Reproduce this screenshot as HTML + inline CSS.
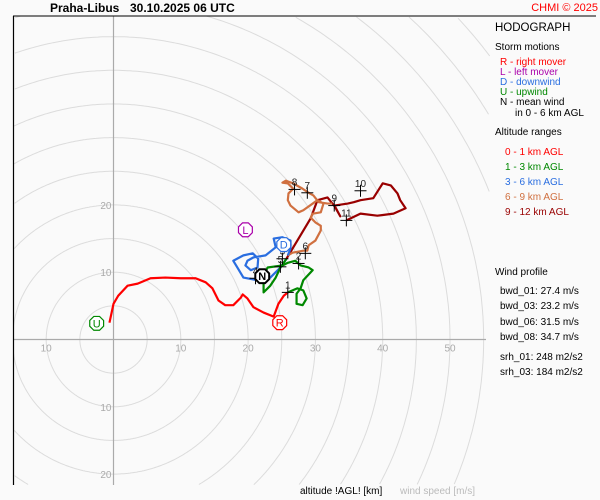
<!DOCTYPE html>
<html><head><meta charset="utf-8">
<style>
html,body{margin:0;padding:0;width:600px;height:500px;overflow:hidden;background:#fafafa;font-family:"Liberation Sans",sans-serif;}
svg{display:block}
text{font-family:"Liberation Sans",sans-serif}
</style></head>
<body>
<svg id="c" width="600" height="500" xmlns="http://www.w3.org/2000/svg">
<rect x="0" y="0" width="600" height="500" fill="#fafafa"/>
<g id="rings"></g>
<g id="axes"></g>
<g id="ticks"></g>
<g id="traces"></g>
<g id="marks"></g>
<line x1="13" y1="16" x2="596" y2="16" stroke="#000" stroke-width="1"/>
<line x1="13.5" y1="16" x2="13.5" y2="485" stroke="#000" stroke-width="1.2"/>
<text x="50" y="12" font-size="12" font-weight="bold">Praha-Libus</text>
<text x="130" y="12" font-size="12" font-weight="bold">30.10.2025 06 UTC</text>
<text x="598" y="11" font-size="11" fill="#f00" text-anchor="end">CHMI © 2025</text>
<g font-size="10">
<text x="495" y="31" font-size="11.5">HODOGRAPH</text>
<text x="495" y="50">Storm motions</text>
<text x="500" y="65" fill="#f00">R - right mover</text>
<text x="500" y="75" fill="#a0a">L - left mover</text>
<text x="500" y="85" fill="#2a6ee0">D - downwind</text>
<text x="500" y="95" fill="#080">U - upwind</text>
<text x="500" y="105">N - mean wind</text>
<text x="515" y="116">in 0 - 6 km AGL</text>
<text x="495" y="135">Altitude ranges</text>
<text x="505" y="155" fill="#f00">0 - 1 km AGL</text>
<text x="505" y="170" fill="#080">1 - 3 km AGL</text>
<text x="505" y="185" fill="#2a6ee0">3 - 6 km AGL</text>
<text x="505" y="200" fill="#d07040">6 - 9 km AGL</text>
<text x="505" y="215" fill="#900">9 - 12 km AGL</text>
<text x="495" y="275">Wind profile</text>
<text x="500" y="294">bwd_01: 27.4 m/s</text>
<text x="500" y="309">bwd_03: 23.2 m/s</text>
<text x="500" y="325">bwd_06: 31.5 m/s</text>
<text x="500" y="340">bwd_08: 34.7 m/s</text>
<text x="500" y="360">srh_01: 248 m2/s2</text>
<text x="500" y="375">srh_03: 184 m2/s2</text>
</g>
<text x="300" y="494" font-size="10">altitude !AGL! [km]</text>
<text x="400" y="494" font-size="10" fill="#bbb">wind speed [m/s]</text>
</svg>
<script>
const xTicks=[-10,10,20,30,40,50];
const yTicks=[20,10,-10,-20];
const ringSpeeds=[5,10,15,20,25,30,35,40,45,50,55,60,65,70,75];
const u01=[-0.6,0,0.7,2.1,3.6,5.5,7.7,10.0,12.2,13.7,14.7,15.6,16.6,17.8,18.9,19.2,19.9,20.8,22.3,23.8,24.5,25.3,25.9];
const v01=[2.5,5.3,6.5,8.0,8.3,9.1,9.2,9.1,9.1,8.5,7.6,5.8,5.1,5.1,6.2,6.7,6.1,4.8,4.0,3.4,5.3,6.5,7.0];
const u13=[25.9,27.3,28.2,28.7,28.1,27.2,27.2,27.8,28.2,29.6,29.0,27.8,27.0,25.9,25.1,22.9,22.3,22.3,23.3,24.1,24.8,25.7];
const v13=[7.0,7.6,7.3,6.1,5.1,5.3,6.8,7.6,8.8,10.3,10.7,11.0,11.7,11.4,11.0,10.7,9.5,7.0,8.0,9.2,10.7,12.0];
const u36=[25.7,24.8,23.3,21.4,19.3,18.4,17.8,19.3,20.7,21.5,21.4,20.4,19.6,19.9,20.8,22.6,24.1,23.8,25.1,26.3,26.3,25.9];
const v36=[12.0,10.7,9.2,8.8,9.2,10.7,11.7,12.5,12.8,12.0,10.7,10.3,11.0,11.7,12.2,12.5,13.7,15.0,15.2,14.7,13.5,12.5];
const u69=[25.9,26.6,28.2,28.8,29.0,30.0,30.8,30.8,30.0,29.3,29.6,30.8,31.2,30.3,29.6,28.2,27.5,26.3,25.9,26.0,26.7,25.9,25.1,25.6,26.7,28.1,29.0,29.7,30.5,31.8,32.5];
const v69=[12.5,12.9,13.2,13.2,14.0,14.7,16.2,16.9,17.4,18.1,18.7,18.9,20.2,20.7,20.2,19.2,18.9,19.9,20.7,21.7,22.4,23.2,23.3,23.6,23.2,22.4,21.8,21.4,20.4,20.2,20.2];
const u912=[25.7,29.3,30.3,31.8,33.0,33.7,32.8,34.8,35.7,36.7,38.6,40.0,41.2,42.2,42.6,43.4,41.6,39.2,36.7,34.6];
const v912=[12.0,18.0,20.7,21.1,19.6,18.3,19.9,20.2,20.4,20.7,21.0,23.2,22.9,21.7,20.7,19.5,18.7,18.4,18.7,17.7];
const levelLabels=["1","2","3","4","5","6","7","8","9","10","11"];
const levelU=[25.9,27.5,25.1,21.1,24.8,28.5,28.8,26.9,32.8,36.7,34.6];
const levelV=[7.0,11.3,12.0,9.1,10.8,12.8,21.8,22.3,19.9,22.1,17.7];
const motionLabels=["R","L","D","U","N"];
const motionU=[24.7,19.6,25.3,-2.5,22.1];
const motionV=[2.5,16.3,14.1,2.4,9.4];
const motionColors=["#f00","#a0a","#2a6ee0","#080","#000"];

const OX=113.5,OY=339.5,S=6.73;
const X=u=>OX+u*S, Y=v=>OY-v*S;
const L=13.5,T=16,R=490,B=485;
const NS="http://www.w3.org/2000/svg";
function mk(tag,parent,attrs){const e=document.createElementNS(NS,tag);for(const k in attrs)e.setAttribute(k,attrs[k]);parent.appendChild(e);return e;}
const rings=document.getElementById('rings');
ringSpeeds.forEach(s=>{
 const r=s*S;let d='',pen=false;
 for(let k=0;k<=720;k++){
  const a=k*Math.PI/360,x=OX+r*Math.cos(a),y=OY+r*Math.sin(a);
  const inside=x>=L&&x<=R&&y>=T&&y<=B;
  if(inside){d+=(pen?'L':'M')+x.toFixed(1)+' '+y.toFixed(1);pen=true;}else pen=false;
 }
 if(!d)return;
 const c=mk('path',rings,{d:d,fill:'none',stroke:'#dcdcdc','stroke-width':1});
 
 
});
const axes=document.getElementById('axes');
const ax=mk('line',axes,{x1:13,y1:OY,x2:486,y2:OY,stroke:'#aaa','stroke-width':1.2});


const ay=mk('line',axes,{x1:OX,y1:16,x2:OX,y2:485,stroke:'#aaa','stroke-width':1.2});


const ticks=document.getElementById('ticks');
xTicks.forEach(t=>{
 const e=mk('text',ticks,{x:X(t),y:OY+12,'font-size':10,fill:'#aaa','text-anchor':'middle'});e.textContent=t<0?-t:t;
 
 
});
yTicks.forEach(t=>{
 const e=mk('text',ticks,{x:OX-2,y:Y(t)+4,'font-size':10,fill:'#aaa','text-anchor':'end'});e.textContent=t<0?-t:t;
 
 
});
const traces=document.getElementById('traces');
[[u912,v912,'#900','trace-9-12km'],[u69,v69,'#d07040','trace-6-9km'],[u36,v36,'#2a6ee0','trace-3-6km'],[u13,v13,'#080','trace-1-3km'],[u01,v01,'#f00','trace-0-1km']].forEach(([us,vs,col,name])=>{
 const p=mk('polyline',traces,{points:us.map((u,i)=>X(u)+','+Y(vs[i])).join(' '),fill:'none',stroke:col,'stroke-width':2.2,'stroke-linejoin':'round'});
 
 
});
const marks=document.getElementById('marks');
levelLabels.forEach((l,i)=>{
 const x=X(levelU[i]),y=Y(levelV[i]);
 const g=mk('g',marks,{});
 
 
 mk('line',g,{x1:x-6,y1:y,x2:x+6,y2:y,stroke:'#000','stroke-width':1});
 mk('line',g,{x1:x,y1:y-6,x2:x,y2:y+6,stroke:'#000','stroke-width':1});
 const t=mk('text',g,{x:x,y:y-4,'font-size':10,'text-anchor':'middle',fill:'#222'});t.textContent=l;
});
motionLabels.forEach((l,i)=>{
 const x=X(motionU[i]),y=Y(motionV[i]);
 const g=mk('g',marks,{});
 
 
 const pts=[];for(let k=0;k<8;k++){const a=Math.PI/8+k*Math.PI/4;pts.push((x+7.5*Math.cos(a))+','+(y+7.5*Math.sin(a)));}
 mk('polygon',g,{points:pts.join(' '),fill:'#fff',stroke:motionColors[i],'stroke-width':l==='N'?2:1.2});
 const t=mk('text',g,{x:x,y:y+4,'font-size':11,'text-anchor':'middle',fill:motionColors[i],'font-weight':l==='N'?'bold':'normal'});t.textContent=l;
});
</script>
</body></html>
